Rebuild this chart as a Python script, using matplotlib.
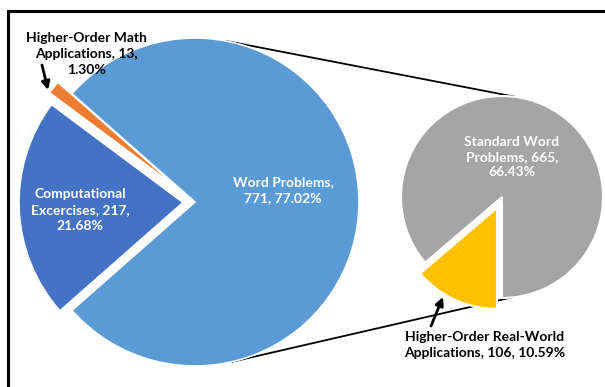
import numpy as np
import matplotlib
matplotlib.use("Agg")
import matplotlib.pyplot as plt
from matplotlib.patches import Rectangle

plt.rcParams['font.family'] = ['Lato', 'DejaVu Sans']

# ---- data ----
main_labels = ["Word Problems", "Higher-Order Math\nApplications", "Computational\nExcercises"]
main_values = [771, 13, 217]
sub_labels = ["Standard Word\nProblems", "Higher-Order Real-World\nApplications"]
sub_values = [665, 106]
total = sum(main_values)

main_colors = ["#5B9BD5", "#ED7D31", "#4472C4"]
sub_colors = ["#A5A5A5", "#FFC000"]

W, H = 605, 387
fig = plt.figure(figsize=(W / 100, H / 100), dpi=100)
ax = fig.add_axes([0, 0, 1, 1])

# main pie
mc, mr = (195, 185), 164
start_main = -360 * main_values[0] / total / 2
ax.pie(main_values, colors=main_colors, center=mc, radius=mr, startangle=start_main,
       counterclock=True, explode=[0, 18, 12],
       wedgeprops=dict(edgecolor="white", linewidth=1.2))

# secondary pie
sc, sr = (502, 190), 101
ax.pie(sub_values, colors=sub_colors, center=sc, radius=sr, startangle=-90,
       counterclock=True, explode=[0, 12],
       wedgeprops=dict(edgecolor="white", linewidth=1.5))

# connector lines
def pt(c, r, a):
    return c[0] + r * np.cos(np.radians(a)), c[1] + r * np.sin(np.radians(a))

for a1, a2 in [(79, 82), (-77, -85)]:
    p1 = pt(mc, mr, a1)
    p2 = pt(sc, sr, a2)
    ax.plot([p1[0], p2[0]], [p1[1], p2[1]], color="black", lw=1.3, zorder=0)

def lab(name, v):
    return f"{name}, {v},\n{100 * v / total:.2f}%"

fs = 10
ls = 1.35
ax.text(283, 197, f"{main_labels[0]},\n{main_values[0]}, {100*main_values[0]/total:.2f}%",
        ha="center", va="center", color="white", fontsize=fs, fontweight="bold", linespacing=ls)
ax.text(80, 177, lab(main_labels[2], main_values[2]), ha="center", va="center",
        color="white", fontsize=fs, fontweight="bold", linespacing=ls)
ax.text(86, 333, lab(main_labels[1], main_values[1]), ha="center", va="center",
        color="black", fontsize=fs, fontweight="bold", linespacing=ls)
ax.text(512, 230, lab(sub_labels[0], sub_values[0]), ha="center", va="center",
        color="white", fontsize=fs, fontweight="bold", linespacing=ls)
ax.text(485, 42, f"{sub_labels[1]}, {sub_values[1]}, {100*sub_values[1]/total:.2f}%",
        ha="center", va="center", color="black", fontsize=fs, fontweight="bold", linespacing=ls)

# arrows
ap = dict(arrowstyle="-|>", lw=2, color="black", mutation_scale=12, shrinkA=0, shrinkB=0)
ax.annotate("", xy=(48, 297), xytext=(42, 322), arrowprops=ap)
ax.annotate("", xy=(443, 90), xytext=(431, 61), arrowprops=ap)

# outer frame
ax.add_patch(Rectangle((8, -20), 640, H - 11 + 20, fill=False, edgecolor="black",
                       lw=2.2, clip_on=False))

ax.set_xlim(0, W)
ax.set_ylim(0, H)
ax.set_aspect("equal")
ax.axis("off")

fig.savefig("out.png", dpi=100)
